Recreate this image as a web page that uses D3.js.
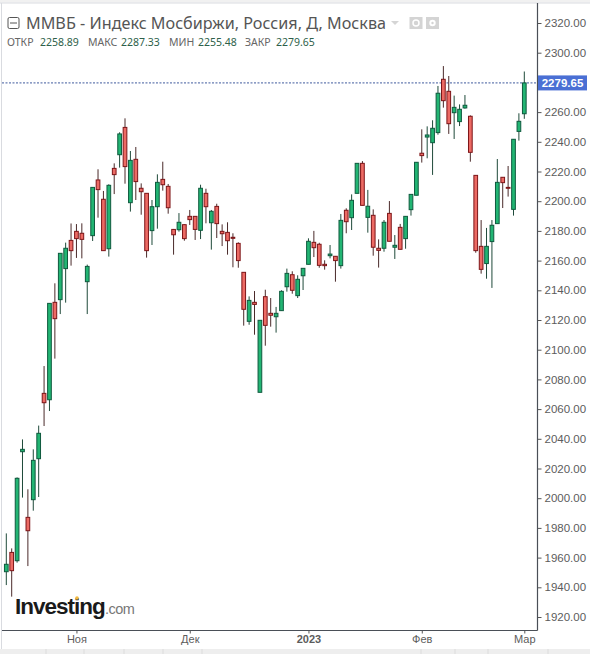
<!DOCTYPE html>
<html><head><meta charset="utf-8">
<script src="https://cdn.jsdelivr.net/npm/d3@7/dist/d3.min.js"></script>
<style>html,body{margin:0;padding:0;background:#fff;overflow:hidden}svg{display:block}</style>
</head><body><svg id="c" width="590" height="654"></svg>
<script>
const open=[1950.5,1963.5,1957.9,2031.3,1987.1,1999,2026.6,2070.6,2066.3,2131.9,2133.7,2154.6,2173.6,2179.7,2178.4,2145.8,2176.8,2214.3,2201.3,2168,2222.1,2231.3,2249.7,2199,2228.2,2208.7,2205.3,2180.2,2196.3,2214.7,2210,2181,2180.8,2184.2,2189.8,2189.8,2180.4,2205.3,2185.5,2196.5,2179.7,2179,2175.7,2171.6,2152.1,2119.1,2131.9,2071.3,2135.7,2124.5,2122.2,2126.3,2142.4,2150.5,2136.4,2149.8,2157.5,2172.3,2171,2157.5,2163.3,2162.9,2156.6,2193.9,2188.9,2205.3,2225.5,2189.1,2190.5,2168.3,2168.3,2191.8,2169,2182.4,2174.8,2194.3,2204,2232.3,2243.2,2239.4,2246.2,2282.1,2274,2259.6,2253.6,2262.8,2257.2,2217.4,2169.6,2158,2172.8,2184.9,2216.1,2209.3,2194.5,2247,2258.89];
const high=[1976.3,1966.2,2014,2039.6,2006,2032.9,2048.9,2089,2131.2,2144.7,2164.9,2172.1,2185,2184.6,2185.1,2157.3,2209.3,2221.5,2206.9,2211.4,2225.5,2246.4,2255.8,2233.8,2236.5,2212,2205.3,2200.8,2218.1,2226.6,2211.6,2181.3,2192,2184.4,2194.1,2189.8,2211.1,2208.4,2194.1,2198.3,2184.4,2185.8,2178.4,2172.3,2152.1,2135.9,2139.5,2119.8,2140.4,2134.8,2128.8,2140,2154.6,2152.8,2150.1,2154.8,2175,2180,2172,2160.2,2170.5,2163.1,2191.4,2195.2,2204.6,2225.5,2227,2207.6,2194.5,2174.3,2187.3,2200.1,2177.2,2184.7,2190,2204.6,2226.2,2248.4,2250.4,2254.5,2277.6,2291,2284.3,2271.1,2265.2,2271.5,2257.8,2217.4,2187.3,2182,2187.3,2228.4,2216.1,2223.7,2241.7,2259.2,2287.33];
const low=[1941.5,1933.7,1956.6,2000.4,1954.3,1991.6,2000.8,2048.6,2058.7,2094,2124,2131.7,2156.6,2161.8,2161.5,2124,2173.2,2188.9,2166.7,2162.7,2204.8,2222.6,2211.8,2193,2200.8,2190.9,2162,2170.5,2181.5,2207.1,2191.6,2164,2179.5,2173.4,2184,2173.9,2174.5,2185.1,2167.4,2175.2,2169.8,2164,2155.5,2155.2,2116.2,2116.8,2110.1,2071.3,2102.7,2115.5,2111.5,2126.3,2139.1,2137.7,2134.8,2140.2,2157.5,2162.4,2155.2,2153.9,2161.5,2145.8,2154.6,2178.4,2180.6,2205.3,2197.2,2178.8,2163.3,2155.3,2166,2173,2161.1,2167.6,2168,2190.3,2204,2226,2228.9,2217.7,2244.8,2263,2245.3,2241.9,2250.6,2262.3,2226.6,2165.3,2151.2,2147.8,2141.6,2184.9,2195.4,2203.1,2190.3,2240.8,2255.48];
const close=[1955.5,1951.2,2013.4,2032.9,1978.1,2025.5,2043.7,2064.3,2131.2,2120.9,2164.9,2168.3,2166.7,2174.8,2174.3,2156.1,2209.3,2207.8,2166.7,2210.7,2217.9,2245.3,2223.3,2227.5,2213.2,2206.4,2166.7,2196.3,2212.7,2211.1,2195.6,2177.4,2185.8,2174.8,2187.6,2181,2208.7,2196.3,2193.2,2184.9,2178.1,2173.4,2175,2160,2127.2,2133.2,2130.5,2119.8,2116.4,2123.2,2124.5,2139.3,2151.4,2140,2147.4,2154.8,2173,2168.7,2156.8,2156.6,2164.4,2160,2187.1,2186.2,2200.6,2225.5,2197.2,2196.6,2169,2166.9,2185.8,2173,2170.3,2167.6,2189.8,2204.6,2226.2,2230.7,2244.6,2249.1,2272.7,2267.7,2252.2,2263.2,2261.9,2264.6,2232.9,2166.7,2154.1,2169.6,2183.8,2212.7,2212.5,2208.7,2241.7,2253.8,2279.65];
const priceTicks=d3.range(1920,2321,20).filter(v=>v!==2280);
const monthIndex=[13,34,56,77,96];
const monthLabels=["Ноя","Дек","2023","Фев","Мар"];
const lastClose=2279.65;
const title="ММВБ - Индекс Мосбиржи, Россия, Д, Москва";
const legendNames=["ОТКР","МАКС","МИН","ЗАКР"];
const legendValues=["2258.89","2287.33","2255.48","2279.65"];
const legendX=[7,40,88,121,169,198,245,276];
const footerDividers=[46,84,124,163,202,421,455,488,548];

const AX="'Liberation Sans',Arial,sans-serif", TF="'Noto Sans','Open Sans',sans-serif";
const svg=d3.select("#c");
const x=d3.scaleLinear().domain([0,96]).range([6.3,524.3]);
const y=d3.scaleLinear().domain([1920,2320]).range([617,23]);
const plotL=2,plotR=537.5,plotB=630.5;

// frame
svg.append("rect").attr("width",590).attr("height",654).attr("fill","#fff");
svg.append("rect").attr("x",0).attr("y",0).attr("width",590).attr("height",2.5).attr("fill","#f1f1f1");
svg.append("line").attr("x1",0).attr("x2",590).attr("y1",3).attr("y2",3).attr("stroke","#d9dbe0");
svg.append("line").attr("x1",1.5).attr("x2",1.5).attr("y1",3).attr("y2",649).attr("stroke","#d9dbe0");
svg.append("rect").attr("x",0).attr("y",649).attr("width",590).attr("height",5).attr("fill","#eeeeee");
svg.selectAll(".fd").data(footerDividers).join("line").attr("x1",d=>d).attr("x2",d=>d).attr("y1",649).attr("y2",654).attr("stroke","#dcdcdc");

// price axis
const ya=svg.append("g").attr("transform",`translate(${plotR},0)`)
 .call(d3.axisRight(y).tickValues(priceTicks).tickFormat(d3.format(".2f")).tickSize(4).tickPadding(3));
ya.select(".domain").remove();
ya.selectAll("line").attr("stroke","#555");
ya.selectAll("text").attr("font-family",AX).attr("font-size",11.5).attr("fill","#5c5c5c");
svg.append("line").attr("x1",plotR).attr("x2",plotR).attr("y1",3).attr("y2",plotB).attr("stroke","#4a4f57").attr("stroke-width",1.2);

// time axis
const xa=svg.append("g").attr("transform",`translate(0,${plotB})`)
 .call(d3.axisBottom(x).tickValues(monthIndex).tickFormat((d,i)=>monthLabels[i]).tickSize(3).tickPadding(2));
xa.select(".domain").remove();
xa.selectAll("line").attr("stroke","#555");
xa.selectAll("text").attr("font-family",AX).attr("font-size",11).attr("fill","#5c5c5c")
  .attr("font-weight",(d,i)=>monthLabels[i]==="2023"?"bold":"normal");
svg.append("line").attr("x1",plotL).attr("x2",plotR).attr("y1",plotB).attr("y2",plotB).attr("stroke","#4a4f57").attr("stroke-width",1.2);

// last price
svg.append("line").attr("x1",plotL).attr("x2",plotR).attr("y1",y(lastClose)).attr("y2",y(lastClose))
 .attr("stroke","#3f5a9e").attr("stroke-width",1).attr("stroke-dasharray","2,1.5");

// candles
const idx=d3.range(open.length);
const G={f:"#22b573",s:"#0f5a3e"},R={f:"#ec6a64",s:"#7d1518"};
const col=i=>close[i]>=open[i]?G:R;
const bw=3.7;
const gs=svg.append("g");
gs.selectAll("line").data(idx).join("line")
 .attr("x1",i=>x(i)).attr("x2",i=>x(i)).attr("y1",i=>y(high[i])).attr("y2",i=>y(low[i]))
 .attr("stroke",i=>col(i)===R?"#4a2a2a":"#1f4a3a").attr("stroke-width",1);
gs.selectAll("rect").data(idx).join("rect")
 .attr("x",i=>x(i)-bw/2).attr("width",bw)
 .attr("y",i=>y(Math.max(open[i],close[i])))
 .attr("height",i=>Math.abs(y(open[i])-y(close[i])))
 .attr("fill",i=>col(i).f).attr("stroke",i=>col(i).s).attr("stroke-width",1);

// price tag
svg.append("rect").attr("x",538).attr("y",y(lastClose)-7.5).attr("width",49).attr("height",15).attr("fill","#4a6fd4");
svg.append("text").attr("x",562.5).attr("y",y(lastClose)+4).attr("text-anchor","middle")
 .attr("font-family",AX).attr("font-size",11.5).attr("font-weight","bold").attr("fill","#fff").text(lastClose.toFixed(2));

// header
svg.append("rect").attr("x",8).attr("y",17.5).attr("width",11).attr("height",11).attr("rx",1.5).attr("fill","none").attr("stroke","#555");
svg.append("line").attr("x1",10).attr("x2",17).attr("y1",23).attr("y2",23).attr("stroke","#555");
svg.append("text").attr("x",26).attr("y",28.5).attr("font-family",TF).attr("font-size",16.2).attr("fill","#555").text(title);
svg.append("path").attr("d",d3.line()([[391,21],[399,21],[395,25]])+"Z").attr("fill","#d5d5d5");
[409.5,426].forEach(px=>svg.append("rect").attr("x",px).attr("y",17).attr("width",13).attr("height",12).attr("fill","#d4d4d4"));
svg.append("circle").attr("cx",416).attr("cy",23).attr("r",3).attr("fill","none").attr("stroke","#fff").attr("stroke-width",1.5);
svg.append("circle").attr("cx",432.5).attr("cy",23).attr("r",3.2).attr("fill","#fff");
svg.append("circle").attr("cx",432.5).attr("cy",23).attr("r",1.2).attr("fill","#d4d4d4");
legendNames.forEach((n,i)=>{
 svg.append("text").attr("x",legendX[i*2]).attr("y",46).attr("font-family",TF).attr("font-size",10.5).attr("fill","#666").text(n);
 svg.append("text").attr("x",legendX[i*2+1]).attr("y",46).attr("font-family",TF).attr("font-size",10.5).attr("fill","#2e5f4a").text(legendValues[i]);
});

// logo
svg.append("text").attr("x",15).attr("y",613.5).attr("font-family",AX).attr("font-size",22.5).attr("font-weight","bold").attr("letter-spacing",-1).attr("fill","#1a1a1a").text("Investing");
svg.append("text").attr("x",105).attr("y",613.5).attr("font-family",AX).attr("font-size",14.5).attr("letter-spacing",-0.5).attr("fill","#777").text(".com");
svg.append("circle").attr("cx",77).attr("cy",598).attr("r",1.8).attr("fill","#f0b840");
</script></body></html>
